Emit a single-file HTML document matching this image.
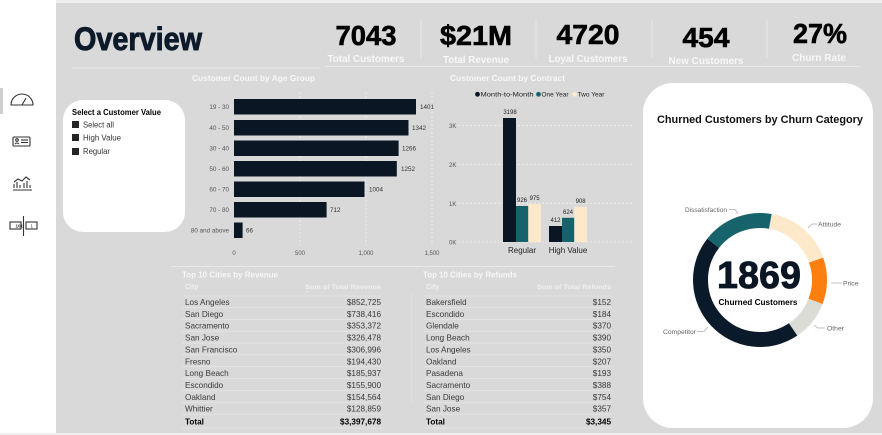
<!DOCTYPE html>
<html><head><meta charset="utf-8"><style>
html,body{margin:0;padding:0;width:882px;height:435px;overflow:hidden;background:#fff;}
svg{display:block;font-family:"Liberation Sans",sans-serif;}
</style></head><body>
<svg width="882" height="435" viewBox="0 0 882 435" xmlns="http://www.w3.org/2000/svg">
<rect x="0" y="0" width="882" height="435" fill="#ffffff"/>
<rect x="56" y="0" width="826" height="3" fill="#eeeeee"/>
<rect x="56" y="3" width="826" height="430" fill="#d9d9d9"/>
<rect x="0" y="433" width="882" height="2" fill="#efefef"/>
<rect x="0" y="88" width="3" height="26" fill="#cfcfcf"/>

<!-- sidebar icons -->
<g fill="none" stroke="#333" stroke-width="1.1">
  <path d="M11 105 A11 11 0 0 1 33 105 Z"/>
  <line x1="22" y1="105" x2="26" y2="98"/>
  <rect x="13" y="137" width="17" height="9" rx="1"/>
  <circle cx="17" cy="140" r="1.3"/>
  <path d="M15 144 q2 -2 4 0"/>
  <line x1="21" y1="140" x2="28" y2="140"/><line x1="21" y1="142.5" x2="28" y2="142.5"/>
  <line x1="13" y1="190" x2="32" y2="190"/>
  <path d="M14 188 v-4 M17 188 v-6 M20 188 v-3 M24 188 v-5 M27 188 v-7 M30 188 v-3"/>
  <path d="M14 182 l4 -3 l4 2 l4 -4 l4 3"/>
  <rect x="10" y="222" width="11" height="7"/>
  <rect x="26" y="222" width="11" height="7"/>
  <line x1="23.5" y1="216" x2="23.5" y2="236"/>
</g>
<text x="15.5" y="227.5" font-size="4.5" fill="#333" font-weight="bold">101</text>
<text x="30.5" y="227.5" font-size="4.5" fill="#333">1</text>

<!-- header -->
<text x="74" y="50" font-size="32" font-weight="bold" fill="#0c1a2a" stroke="#0c1a2a" stroke-width="0.9" textLength="128" lengthAdjust="spacingAndGlyphs">Overview</text>
<line x1="72" y1="68" x2="320" y2="68" stroke="#e8e8e8" stroke-width="1"/>
<line x1="325" y1="66.5" x2="860" y2="66.5" stroke="#e8e8e8" stroke-width="1"/>
<g stroke="#e6e6e6" stroke-width="1">
  <line x1="421" y1="20" x2="421" y2="58"/>
  <line x1="536" y1="20" x2="536" y2="58"/>
  <line x1="652" y1="20" x2="652" y2="58"/>
  <line x1="767" y1="20" x2="767" y2="58"/>
</g>
<g font-weight="bold" fill="#000" stroke="#000" stroke-width="0.6" text-anchor="middle">
  <text x="366" y="45" font-size="28" textLength="61" lengthAdjust="spacingAndGlyphs">7043</text>
  <text x="476" y="45" font-size="28" textLength="72" lengthAdjust="spacingAndGlyphs">$21M</text>
  <text x="588" y="44" font-size="28" textLength="63" lengthAdjust="spacingAndGlyphs">4720</text>
  <text x="706" y="47" font-size="28" textLength="47" lengthAdjust="spacingAndGlyphs">454</text>
  <text x="820" y="43" font-size="28" textLength="54" lengthAdjust="spacingAndGlyphs">27%</text>
</g>
<g font-weight="bold" fill="#f7f7f7" text-anchor="middle" font-size="10">
  <text x="366" y="62" textLength="77" lengthAdjust="spacingAndGlyphs">Total Customers</text>
  <text x="476" y="63" textLength="66" lengthAdjust="spacingAndGlyphs">Total Revenue</text>
  <text x="588" y="62" textLength="79" lengthAdjust="spacingAndGlyphs">Loyal Customers</text>
  <text x="706" y="64" textLength="75" lengthAdjust="spacingAndGlyphs">New Customers</text>
  <text x="819" y="61" textLength="54" lengthAdjust="spacingAndGlyphs">Churn Rate</text>
</g>

<!-- slicer -->
<rect x="63" y="100" width="122" height="132" rx="20" fill="#ffffff"/>
<text x="72" y="115" font-size="8" font-weight="bold" fill="#000" textLength="89" lengthAdjust="spacingAndGlyphs">Select a Customer Value</text>
<rect x="72" y="121" width="7" height="7" fill="#252423"/>
<rect x="72" y="134" width="7" height="7" fill="#252423"/>
<rect x="72" y="148" width="7" height="7" fill="#252423"/>
<g font-size="8" fill="#333">
  <text x="83" y="127.5" textLength="31" lengthAdjust="spacingAndGlyphs">Select all</text>
  <text x="83" y="140.5" textLength="38" lengthAdjust="spacingAndGlyphs">High Value</text>
  <text x="83" y="154" textLength="27" lengthAdjust="spacingAndGlyphs">Regular</text>
</g>

<!-- age group chart -->
<text x="192" y="81" font-size="8" font-weight="bold" fill="#f7f7f7" textLength="123" lengthAdjust="spacingAndGlyphs">Customer Count by Age Group</text>
<g stroke="#f2f2f2" stroke-width="0.8" stroke-dasharray="2,2">
  <line x1="300" y1="92" x2="300" y2="245"/>
  <line x1="366" y1="92" x2="366" y2="245"/>
  <line x1="432" y1="92" x2="432" y2="245"/>
</g>
<g fill="#0b1625">
  <rect x="234" y="99" width="182" height="15.5"/>
  <rect x="234" y="120" width="174.5" height="15.5"/>
  <rect x="234" y="140.5" width="164.6" height="15.5"/>
  <rect x="234" y="161" width="162.8" height="15.5"/>
  <rect x="234" y="181.5" width="130.5" height="15.5"/>
  <rect x="234" y="202" width="92.6" height="15.5"/>
  <rect x="234" y="222.5" width="8.6" height="15.5"/>
</g>
<g font-size="6.3" fill="#555" text-anchor="end">
  <text x="229" y="109">19 - 30</text>
  <text x="229" y="130">40 - 50</text>
  <text x="229" y="150.5">30 - 40</text>
  <text x="229" y="171">50 - 60</text>
  <text x="229" y="191.5">60 - 70</text>
  <text x="229" y="212">70 - 80</text>
  <text x="229" y="232.5">80 and above</text>
</g>
<g font-size="6.3" fill="#333">
  <text x="420" y="109">1401</text>
  <text x="412" y="130">1342</text>
  <text x="402" y="150.5">1266</text>
  <text x="401" y="171">1252</text>
  <text x="369" y="191.5">1004</text>
  <text x="330" y="212">712</text>
  <text x="246" y="232.5">66</text>
</g>
<g font-size="6" fill="#555" text-anchor="middle">
  <text x="234" y="255">0</text>
  <text x="300" y="255">500</text>
  <text x="366" y="255">1,000</text>
  <text x="432" y="255">1,500</text>
</g>

<!-- contract chart -->
<text x="450" y="81" font-size="8" font-weight="bold" fill="#f7f7f7" textLength="115" lengthAdjust="spacingAndGlyphs">Customer Count by Contract</text>
<circle cx="477.5" cy="94.3" r="2.4" fill="#0b1625"/>
<text x="480.5" y="96.7" font-size="6.8" fill="#222" textLength="53" lengthAdjust="spacingAndGlyphs">Month-to-Month</text>
<circle cx="538.5" cy="94.3" r="2.4" fill="#17636c"/>
<text x="541.5" y="96.7" font-size="6.8" fill="#222" textLength="27" lengthAdjust="spacingAndGlyphs">One Year</text>
<circle cx="574.5" cy="94.3" r="2.4" fill="#fde9c9"/>
<text x="577.5" y="96.7" font-size="6.8" fill="#222" textLength="27" lengthAdjust="spacingAndGlyphs">Two Year</text>
<g stroke="#f2f2f2" stroke-width="0.8" stroke-dasharray="2,2">
  <line x1="458" y1="125.6" x2="632" y2="125.6"/>
  <line x1="458" y1="164.4" x2="632" y2="164.4"/>
  <line x1="458" y1="203.2" x2="632" y2="203.2"/>
  <line x1="458" y1="242" x2="632" y2="242"/>
</g>
<g font-size="6" fill="#555">
  <text x="449" y="128">3K</text>
  <text x="449" y="167">2K</text>
  <text x="449" y="206">1K</text>
  <text x="449" y="244.5">0K</text>
</g>
<rect x="503" y="118" width="13" height="124" fill="#0b1625"/>
<rect x="516" y="206" width="12.3" height="36" fill="#17636c"/>
<rect x="528.3" y="204.2" width="12.7" height="37.8" fill="#fde9c9"/>
<rect x="549" y="226" width="13" height="16" fill="#0b1625"/>
<rect x="562" y="217.8" width="12.3" height="24.2" fill="#17636c"/>
<rect x="574.3" y="206.8" width="12.7" height="35.2" fill="#fde9c9"/>
<g font-size="6" fill="#222" text-anchor="middle">
  <text x="510" y="114">3198</text>
  <text x="522" y="202">926</text>
  <text x="534.6" y="200">975</text>
  <text x="555.5" y="222">412</text>
  <text x="568" y="214">624</text>
  <text x="580.6" y="203">908</text>
</g>
<g font-size="8" fill="#222" text-anchor="middle">
  <text x="522" y="253">Regular</text>
  <text x="568" y="253">High Value</text>
</g>

<!-- revenue table -->
<line x1="171" y1="266.5" x2="417" y2="266.5" stroke="#e8e8e8" stroke-width="1"/>
<text x="182" y="277.5" font-size="8" font-weight="bold" fill="#f7f7f7" textLength="96" lengthAdjust="spacingAndGlyphs">Top 10 Cities by Revenue</text>
<text x="185" y="289" font-size="7" font-weight="bold" fill="#efefef">City</text>
<text x="381" y="289" font-size="6.8" font-weight="bold" fill="#efefef" text-anchor="end" textLength="76" lengthAdjust="spacingAndGlyphs">Sum of Total Revenue</text>
<path d="M306 291.5 l2.5 0 l-1.25 1.5 z" fill="#efefef"/>
<g stroke="#e6e6e6" stroke-width="0.8">
  <line x1="182" y1="296" x2="382" y2="296"/>
  <line x1="182" y1="307.5" x2="382" y2="307.5"/>
  <line x1="182" y1="319.4" x2="382" y2="319.4"/>
  <line x1="182" y1="331.2" x2="382" y2="331.2"/>
  <line x1="182" y1="343" x2="382" y2="343"/>
  <line x1="182" y1="354.9" x2="382" y2="354.9"/>
  <line x1="182" y1="366.7" x2="382" y2="366.7"/>
  <line x1="182" y1="378.6" x2="382" y2="378.6"/>
  <line x1="182" y1="390.4" x2="382" y2="390.4"/>
  <line x1="182" y1="402.3" x2="382" y2="402.3"/>
  <line x1="182" y1="414.2" x2="382" y2="414.2"/>
  <line x1="182" y1="428" x2="382" y2="428"/>
</g>
<g font-size="8.2" fill="#3a3a3a">
  <text x="185" y="305">Los Angeles</text>
  <text x="185" y="316.9">San Diego</text>
  <text x="185" y="328.7">Sacramento</text>
  <text x="185" y="340.6">San Jose</text>
  <text x="185" y="352.4">San Francisco</text>
  <text x="185" y="364.3">Fresno</text>
  <text x="185" y="376.1">Long Beach</text>
  <text x="185" y="388">Escondido</text>
  <text x="185" y="399.8">Oakland</text>
  <text x="185" y="411.7">Whittier</text>
</g>
<g font-size="8.2" fill="#3a3a3a" text-anchor="end">
  <text x="381" y="305">$852,725</text>
  <text x="381" y="316.9">$738,416</text>
  <text x="381" y="328.7">$353,372</text>
  <text x="381" y="340.6">$326,478</text>
  <text x="381" y="352.4">$306,996</text>
  <text x="381" y="364.3">$194,430</text>
  <text x="381" y="376.1">$185,937</text>
  <text x="381" y="388">$155,900</text>
  <text x="381" y="399.8">$154,564</text>
  <text x="381" y="411.7">$128,859</text>
</g>
<text x="185" y="424.5" font-size="8.2" font-weight="bold" fill="#000">Total</text>
<text x="381" y="424.5" font-size="8.2" font-weight="bold" fill="#000" text-anchor="end">$3,397,678</text>

<!-- refunds table -->
<line x1="411" y1="266.5" x2="615" y2="266.5" stroke="#e8e8e8" stroke-width="1"/>
<line x1="411.5" y1="293" x2="411.5" y2="405" stroke="#e2e2e2" stroke-width="0.8"/>
<text x="423" y="277.5" font-size="8" font-weight="bold" fill="#f7f7f7" textLength="94" lengthAdjust="spacingAndGlyphs">Top 10 Cities by Refunds</text>
<text x="426" y="289" font-size="7" font-weight="bold" fill="#efefef">City</text>
<text x="611" y="289" font-size="6.8" font-weight="bold" fill="#efefef" text-anchor="end" textLength="74" lengthAdjust="spacingAndGlyphs">Sum of Total Refunds</text>
<g stroke="#e6e6e6" stroke-width="0.8">
  <line x1="423" y1="296" x2="612" y2="296"/>
  <line x1="423" y1="307.5" x2="612" y2="307.5"/>
  <line x1="423" y1="319.4" x2="612" y2="319.4"/>
  <line x1="423" y1="331.2" x2="612" y2="331.2"/>
  <line x1="423" y1="343" x2="612" y2="343"/>
  <line x1="423" y1="354.9" x2="612" y2="354.9"/>
  <line x1="423" y1="366.7" x2="612" y2="366.7"/>
  <line x1="423" y1="378.6" x2="612" y2="378.6"/>
  <line x1="423" y1="390.4" x2="612" y2="390.4"/>
  <line x1="423" y1="402.3" x2="612" y2="402.3"/>
  <line x1="423" y1="414.2" x2="612" y2="414.2"/>
  <line x1="423" y1="428" x2="612" y2="428"/>
</g>
<g font-size="8.2" fill="#3a3a3a">
  <text x="426" y="305">Bakersfield</text>
  <text x="426" y="316.9">Escondido</text>
  <text x="426" y="328.7">Glendale</text>
  <text x="426" y="340.6">Long Beach</text>
  <text x="426" y="352.4">Los Angeles</text>
  <text x="426" y="364.3">Oakland</text>
  <text x="426" y="376.1">Pasadena</text>
  <text x="426" y="388">Sacramento</text>
  <text x="426" y="399.8">San Diego</text>
  <text x="426" y="411.7">San Jose</text>
</g>
<g font-size="8.2" fill="#3a3a3a" text-anchor="end">
  <text x="611" y="305">$152</text>
  <text x="611" y="316.9">$184</text>
  <text x="611" y="328.7">$370</text>
  <text x="611" y="340.6">$390</text>
  <text x="611" y="352.4">$350</text>
  <text x="611" y="364.3">$207</text>
  <text x="611" y="376.1">$193</text>
  <text x="611" y="388">$388</text>
  <text x="611" y="399.8">$754</text>
  <text x="611" y="411.7">$357</text>
</g>
<text x="426" y="424.5" font-size="8.2" font-weight="bold" fill="#000">Total</text>
<text x="611" y="424.5" font-size="8.2" font-weight="bold" fill="#000" text-anchor="end">$3,345</text>

<!-- churn card -->
<rect x="643" y="83" width="230" height="345" rx="30" fill="#ffffff"/>
<text x="657" y="123" font-size="11" font-weight="bold" fill="#111" textLength="206" lengthAdjust="spacingAndGlyphs">Churned Customers by Churn Category</text>
<g fill="none" stroke-width="15">
  <path d="M770.33 221.40 A59.5 59.5 0 0 1 816.08 260.14" stroke="#fde9c9"/>
  <path d="M816.08 260.14 A59.5 59.5 0 0 1 815.51 301.42" stroke="#fc7f0f"/>
  <path d="M815.51 301.42 A59.5 59.5 0 0 1 793.10 329.44" stroke="#dcdcd6"/>
  <path d="M793.10 329.44 A59.5 59.5 0 0 1 713.22 243.23" stroke="#0b1a2a"/>
  <path d="M713.22 243.23 A59.5 59.5 0 0 1 770.33 221.40" stroke="#17636c"/>
</g>
<text x="759" y="288" font-size="38" font-weight="bold" fill="#0b1625" stroke="#0b1625" stroke-width="0.8" text-anchor="middle" textLength="84" lengthAdjust="spacingAndGlyphs">1869</text>
<text x="758" y="305" font-size="8" font-weight="bold" fill="#000" text-anchor="middle" textLength="79" lengthAdjust="spacingAndGlyphs">Churned Customers</text>
<g fill="none" stroke="#aaaaaa" stroke-width="0.7">
  <polyline points="729,209.5 735,209.5 738,214"/>
  <polyline points="817,224 812,224 808,228"/>
  <polyline points="842,283 831,283"/>
  <polyline points="825,328 818,328 814,325"/>
  <polyline points="697,331.5 704,331.5 708,327"/>
</g>
<g font-size="6.8" fill="#666">
  <text x="685" y="212" textLength="42" lengthAdjust="spacingAndGlyphs">Dissatisfaction</text>
  <text x="818" y="226.5">Attitude</text>
  <text x="843" y="285.5">Price</text>
  <text x="827" y="330.5">Other</text>
  <text x="663" y="334" textLength="33" lengthAdjust="spacingAndGlyphs">Competitor</text>
</g>
</svg>
</body></html>
